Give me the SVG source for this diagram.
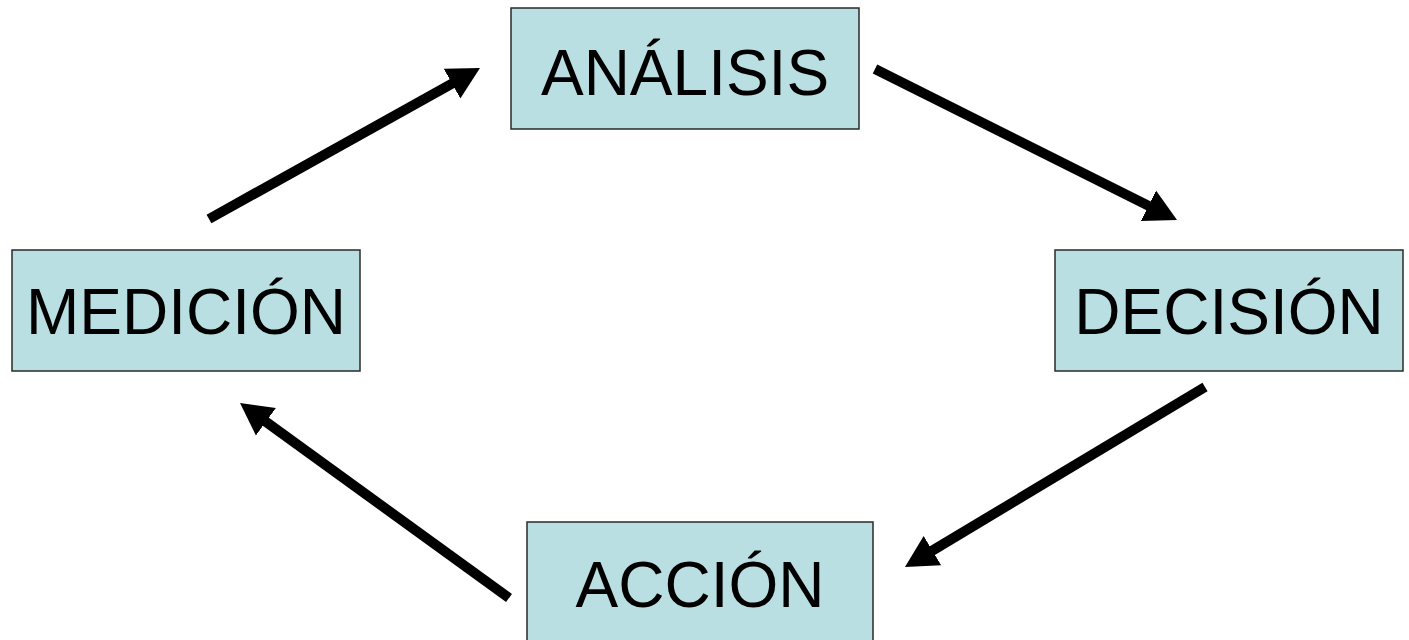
<svg xmlns="http://www.w3.org/2000/svg" width="1409" height="640" viewBox="0 0 1409 640">
  <style>
    .box { fill: #B9DFE3; stroke: #2a2a2a; stroke-width: 1.5; }
    .lbl { font-family: "Liberation Sans", Arial, sans-serif; font-size: 64px; fill: #000; text-anchor: middle; }
    .conn { stroke: #000; stroke-width: 10; fill: none; marker-end: url(#head); }
  </style>
  <defs>
    <marker id="head" markerUnits="userSpaceOnUse" markerWidth="40" markerHeight="40" viewBox="0 -20 40 40" refX="2" refY="0" orient="auto">
      <path d="M0,-17 L32,0 L0,17 z" fill="#000"/>
    </marker>
  </defs>
  <rect width="1409" height="640" fill="#fff"/>
  <g id="analisis">
    <rect class="box" x="511" y="8" width="348" height="121"/>
    <text class="lbl" x="685" y="95">ANÁLISIS</text>
  </g>
  <g id="medicion">
    <rect class="box" x="12" y="250" width="348" height="121"/>
    <text class="lbl" x="186" y="334">MEDICIÓN</text>
  </g>
  <g id="decision">
    <rect class="box" x="1055" y="250" width="348" height="121"/>
    <text class="lbl" x="1229" y="334">DECISIÓN</text>
  </g>
  <g id="accion">
    <rect class="box" x="527" y="522" width="346" height="130"/>
    <text class="lbl" x="700" y="607">ACCIÓN</text>
  </g>
  <g id="connectors">
    <line class="conn" x1="209" y1="219" x2="453.8" y2="82.6"/>
    <line class="conn" x1="875" y1="69" x2="1150.2" y2="206.6"/>
    <line class="conn" x1="1205" y1="387" x2="930.7" y2="551.6"/>
    <line class="conn" x1="509" y1="598" x2="264.3" y2="420.6"/>
  </g>
</svg>
